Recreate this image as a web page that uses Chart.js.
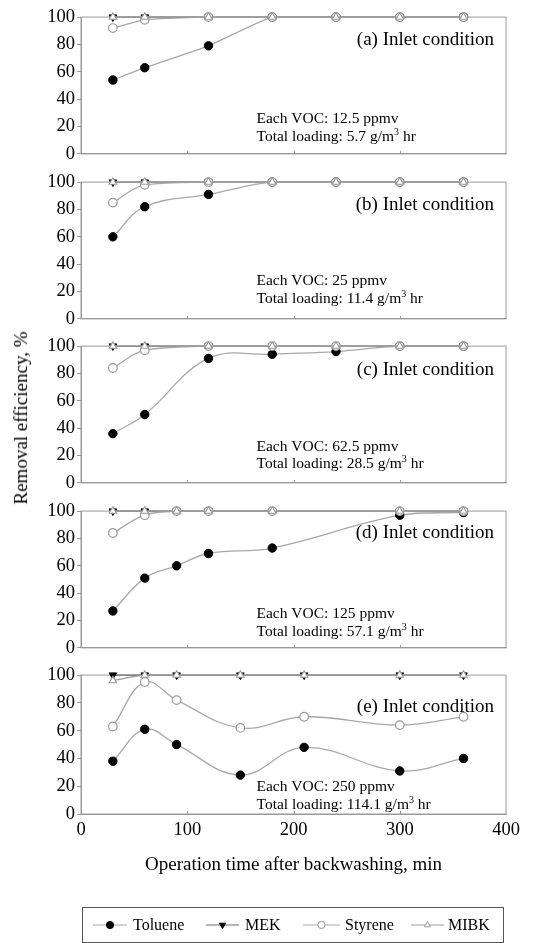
<!DOCTYPE html>
<html>
<head>
<meta charset="utf-8">
<script src="https://cdn.jsdelivr.net/npm/chart.js@4.4.0/dist/chart.umd.min.js"></script>
<style>
  body { margin: 0; background: #fff; }
  #wrap { position: relative; width: 552px; height: 943px; overflow: hidden; }
  .panel { position: absolute; left: 0; width: 552px; }
  #ytitle {
    position: absolute; left: 21px; top: 418px;
    transform: translate(-50%, -50%) rotate(-90deg);
    font: 19px "Liberation Serif", serif; white-space: nowrap; color: #000;
  }
</style>
</head>
<body>
<div id="wrap">
  <div class="panel" style="top:4px;height:163px"><canvas id="pa"></canvas></div>
  <div class="panel" style="top:168.5px;height:163px"><canvas id="pb"></canvas></div>
  <div class="panel" style="top:333px;height:163px"><canvas id="pc"></canvas></div>
  <div class="panel" style="top:497.5px;height:163px"><canvas id="pd"></canvas></div>
  <div class="panel" style="top:662px;height:281px"><canvas id="pe"></canvas></div>
  <div id="ytitle">Removal efficiency, %</div>
</div>
<script>
// valores
const seriesNames = ['Toluene', 'MEK', 'Styrene', 'MIBK'];
const xTicks = [0, 100, 200, 300, 400];
const yTicks = [0, 20, 40, 60, 80, 100];

const timesA = [30, 60, 120, 180, 240, 300, 360];
const tolueneA = [54, 63, 79, 100, 100, 100, 100];
const mekA = [100, 100, 100, 100, 100, 100, 100];
const styreneA = [92, 98, 100, 100, 100, 100, 100];
const mibkA = [100, 100, 100, 100, 100, 100, 100];

const timesB = [30, 60, 120, 180, 240, 300, 360];
const tolueneB = [60, 82, 91, 100, 100, 100, 100];
const mekB = [100, 100, 100, 100, 100, 100, 100];
const styreneB = [85, 98, 100, 100, 100, 100, 100];
const mibkB = [100, 100, 100, 100, 100, 100, 100];

const timesC = [30, 60, 120, 180, 240, 300, 360];
const tolueneC = [36, 50, 91, 94, 96, 100, 100];
const mekC = [100, 100, 100, 100, 100, 100, 100];
const styreneC = [84, 97, 100, 100, 100, 100, 100];
const mibkC = [100, 100, 100, 100, 100, 100, 100];

const timesD = [30, 60, 90, 120, 180, 300, 360];
const tolueneD = [27, 51, 60, 69, 73, 97, 99];
const mekD = [100, 100, 100, 100, 100, 100, 100];
const styreneD = [84, 97, 100, 100, 100, 100, 100];
const mibkD = [100, 100, 100, 100, 100, 100, 100];

const timesE = [30, 60, 90, 150, 210, 300, 360];
const tolueneE = [38, 61, 50, 28, 48, 31, 40];
const mekE = [100, 100, 100, 100, 100, 100, 100];
const styreneE = [63, 95, 82, 62, 70, 64, 70];
const mibkE = [96, 100, 100, 100, 100, 100, 100];

const panelLabels = ['(a) Inlet condition', '(b) Inlet condition', '(c) Inlet condition', '(d) Inlet condition', '(e) Inlet condition'];
const vocConc = ['12.5', '25', '62.5', '125', '250'];
const loadings = ['5.7', '11.4', '28.5', '57.1', '114.1'];

const SERIF = '"Liberation Serif", "Times New Roman", serif';

// moldura, marcas internas e textos de cada painel
const panelDecor = {
  id: 'panelDecor',
  beforeDatasetsDraw(chart, args, o) {
    const { ctx, chartArea: a, scales: { x } } = chart;
    ctx.save();
    ctx.strokeStyle = '#9a9a9a';
    ctx.lineWidth = 1;
    ctx.strokeRect(a.left, a.top, a.right - a.left, a.bottom - a.top);
    [100, 200, 300].forEach(v => {
      const px = Math.round(x.getPixelForValue(v)) + 0.5;
      ctx.beginPath();
      ctx.moveTo(px, a.bottom);
      ctx.lineTo(px, a.bottom - 3);
      ctx.stroke();
    });
    ctx.restore();
  },
  afterDraw(chart, args, o) {
    const { ctx, chartArea: a } = chart;
    ctx.save();
    ctx.fillStyle = '#000';
    ctx.textBaseline = 'alphabetic';
    ctx.font = '19px ' + SERIF;
    ctx.textAlign = 'right';
    ctx.fillText(o.label, a.right - 12, a.top + o.labelDy);
    ctx.textAlign = 'left';
    const x0 = 256.5;
    const y1 = a.top + o.vocDy;
    const y2 = y1 + 17.5;
    ctx.font = '15.5px ' + SERIF;
    ctx.fillText('Each VOC: ' + o.voc + ' ppmv', x0, y1);
    const base = 'Total loading: ' + o.loading + ' g/m';
    ctx.fillText(base, x0, y2);
    let w = ctx.measureText(base).width;
    ctx.font = '10px ' + SERIF;
    ctx.fillText('3', x0 + w, y2 - 6);
    w += ctx.measureText('3').width;
    ctx.font = '15.5px ' + SERIF;
    ctx.fillText(' hr', x0 + w, y2);
    ctx.restore();
  }
};

// legenda com linha + marcador, desenhada no último painel
const lineLegend = {
  id: 'lineLegend',
  afterDraw(chart) {
    const ctx = chart.ctx;
    const top = 245, left = 82, right = 503, h = 35;
    const cy = top + 18;
    const slots = [
      { x1: 93, x2: 127, tx: 133 },
      { x1: 206, x2: 239, tx: 245 },
      { x1: 303, x2: 340, tx: 345 },
      { x1: 411, x2: 444, tx: 448 }
    ];
    ctx.save();
    ctx.strokeStyle = '#555';
    ctx.lineWidth = 1;
    ctx.strokeRect(left + 0.5, top + 0.5, right - left, h);
    chart.data.datasets.forEach((ds, i) => {
      const s = slots[i];
      ctx.strokeStyle = ds.borderColor;
      ctx.lineWidth = 1.2;
      ctx.beginPath();
      ctx.moveTo(s.x1, cy);
      ctx.lineTo(s.x2, cy);
      ctx.stroke();
      ctx.fillStyle = ds.pointBackgroundColor;
      ctx.strokeStyle = ds.pointBorderColor;
      ctx.lineWidth = 1;
      Chart.helpers.drawPoint(ctx, {
        pointStyle: ds.pointStyle, radius: 3.6, rotation: ds.rotation || 0, borderWidth: 1
      }, (s.x1 + s.x2) / 2, cy);
      ctx.fillStyle = '#000';
      ctx.font = '16px ' + SERIF;
      ctx.textAlign = 'left';
      ctx.textBaseline = 'middle';
      ctx.fillText(ds.label, s.tx, cy + 1);
    });
    ctx.restore();
  }
};

function pts(times, vals) {
  return times.map((t, i) => ({ x: t, y: vals[i] }));
}

function makePanel(id, idx, times, tol, mek, sty, mib, tension, labelDy, vocDy, last) {
  const datasets = [
    {
      label: seriesNames[0], data: pts(times, tol), order: 3,
      borderColor: '#a8a8a8', borderWidth: 1.3,
      pointStyle: 'circle', pointRadius: 4.2,
      pointBackgroundColor: '#000', pointBorderColor: '#000', pointBorderWidth: 1
    },
    {
      label: seriesNames[1], data: pts(times, mek), order: 2,
      borderColor: '#6e6e6e', borderWidth: 1.3,
      pointStyle: 'triangle', rotation: 180, pointRadius: 4.4,
      pointBackgroundColor: '#000', pointBorderColor: '#000', pointBorderWidth: 1
    },
    {
      label: seriesNames[2], data: pts(times, sty), order: 1,
      borderColor: '#a8a8a8', borderWidth: 1.3,
      pointStyle: 'circle', pointRadius: 4.3,
      pointBackgroundColor: '#fff', pointBorderColor: '#999', pointBorderWidth: 1.2
    },
    {
      label: seriesNames[3], data: pts(times, mib), order: 0,
      borderColor: '#9c9c9c', borderWidth: 1.3,
      pointStyle: 'triangle', pointRadius: 4.3,
      pointBackgroundColor: '#fff', pointBorderColor: '#999', pointBorderWidth: 1.1
    }
  ];
  datasets.forEach(d => { d.tension = tension; d.clip = false; d.fill = false; });

  const ctx = document.getElementById(id).getContext('2d');
  return new Chart(ctx, {
    type: 'line',
    data: { datasets },
    plugins: last ? [panelDecor, lineLegend] : [panelDecor],
    options: {
      responsive: true,
      maintainAspectRatio: false,
      devicePixelRatio: 1,
      animation: false,
      events: [],
      layout: { padding: { top: 10, right: 46, left: 0, bottom: last ? 67 : 10 } },
      plugins: {
        legend: { display: false },
        tooltip: { enabled: false },
        panelDecor: {
          label: panelLabels[idx], voc: vocConc[idx], loading: loadings[idx],
          labelDy: labelDy, vocDy: vocDy
        }
      },
      scales: {
        x: {
          type: 'linear', min: xTicks[0], max: xTicks[xTicks.length - 1],
          afterBuildTicks: s => { s.ticks = xTicks.map(v => ({ value: v })); },
          afterFit: s => { s.height = last ? 62 : 0; },
          grid: { drawOnChartArea: false, drawTicks: false },
          border: { display: true, color: '#999' },
          ticks: {
            display: last, color: '#000', padding: 5,
            font: { family: SERIF, size: 18.5 }
          },
          title: {
            display: last, text: 'Operation time after backwashing, min', color: '#000',
            font: { family: SERIF, size: 19 }, padding: { top: 0, bottom: 0 }
          }
        },
        y: {
          min: yTicks[0], max: yTicks[yTicks.length - 1],
          afterBuildTicks: s => { s.ticks = yTicks.map(v => ({ value: v })); },
          afterFit: s => { s.width = 81; },
          grid: { drawOnChartArea: false, tickLength: 4, color: '#999' },
          border: { display: true, color: '#999' },
          ticks: { color: '#000', padding: 2, font: { family: SERIF, size: 18.5 } }
        }
      }
    }
  });
}

makePanel('pa', 0, timesA, tolueneA, mekA, styreneA, mibkA, 0.15, 28, 106, false);
makePanel('pb', 1, timesB, tolueneB, mekB, styreneB, mibkB, 0.4, 28, 103, false);
makePanel('pc', 2, timesC, tolueneC, mekC, styreneC, mibkC, 0.4, 28.5, 104.5, false);
makePanel('pd', 3, timesD, tolueneD, mekD, styreneD, mibkD, 0.4, 27, 107, false);
makePanel('pe', 4, timesE, tolueneE, mekE, styreneE, mibkE, 0.4, 36.5, 116, true);
</script>
</body>
</html>
